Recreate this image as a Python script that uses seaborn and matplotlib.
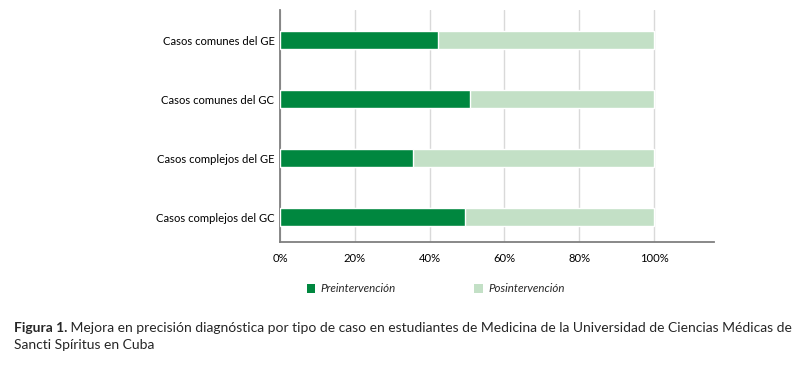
import matplotlib
matplotlib.use("Agg")
import matplotlib.pyplot as plt
from matplotlib.patches import Patch
from matplotlib.ticker import FuncFormatter
import seaborn as sns
import pandas as pd

categories = ["Casos comunes del GE", "Casos comunes del GC",
              "Casos complejos del GE", "Casos complejos del GC"]
pre = [42.2, 50.8, 35.6, 49.4]
pos = [57.8, 49.2, 64.4, 50.6]
series_names = ["Preintervención", "Posintervención"]
xticks = [0, 20, 40, 60, 80, 100]
caption_bold = "Figura 1."
caption_rest_1 = " Mejora en precisión diagnóstica por tipo de caso en estudiantes de Medicina de la Universidad de Ciencias Médicas de"
caption_rest_2 = "Sancti Spíritus en Cuba"

dark = "#00873F"
light = "#C3E0C6"

sns.set_theme(style="white")
plt.rcParams["font.family"] = ["Lato", "DejaVu Sans"]

df = pd.DataFrame({"cat": categories, "pre": pre, "pos": pos})
df["total"] = df["pre"] + df["pos"]

fig = plt.figure(figsize=(8.07, 3.73), dpi=100)
ax = fig.add_axes([280 / 807, 1 - 242 / 373, (714 - 280) / 807, (242 - 10) / 373])

sns.barplot(data=df, x="total", y="cat", color=light, width=0.3, orient="h",
            saturation=1, ax=ax, zorder=2)
sns.barplot(data=df, x="pre", y="cat", color=dark, width=0.3, orient="h",
            saturation=1, ax=ax, zorder=3)

ax.set_xlim(0, 116)
ax.set_ylim(3.42, -0.51)
ax.set_xticks(xticks)
ax.xaxis.set_major_formatter(FuncFormatter(lambda v, p: f"{int(v)}%"))
ax.set_xlabel("")
ax.set_ylabel("")
ax.xaxis.grid(True, color="#D9D9D9", linewidth=1)
ax.set_axisbelow(True)
for s in ["top", "right"]:
    ax.spines[s].set_visible(False)
for s in ["left", "bottom"]:
    ax.spines[s].set_color("#7F7F7F")
    ax.spines[s].set_linewidth(1.3)
ax.tick_params(axis="both", length=0, labelsize=8.1, colors="#000000")
ax.tick_params(axis="x", pad=8)
ax.tick_params(axis="y", pad=4)

handles = [Patch(facecolor=dark, edgecolor="none"), Patch(facecolor=light, edgecolor="none")]
leg = fig.legend(handles, series_names, loc="center left",
                 bbox_to_anchor=(307 / 807, 1 - 289 / 373), ncol=2, frameon=False,
                 prop={"style": "italic", "size": 8.3}, handlelength=0.7, handleheight=0.7,
                 handletextpad=0.5, columnspacing=6.8, borderaxespad=0, borderpad=0)

# caption
t1 = fig.text(14 / 807, 1 - 328 / 373, caption_bold, fontsize=10.0, fontweight="bold",
              va="center", ha="left")
fig.canvas.draw()
bb = t1.get_window_extent()
fig.text(bb.x1 / fig.bbox.width, 1 - 328 / 373, caption_rest_1, fontsize=10.0,
         va="center", ha="left")
fig.text(14 / 807, 1 - 345 / 373, caption_rest_2, fontsize=10.0, va="center", ha="left")

fig.savefig("out.png", dpi=100)
